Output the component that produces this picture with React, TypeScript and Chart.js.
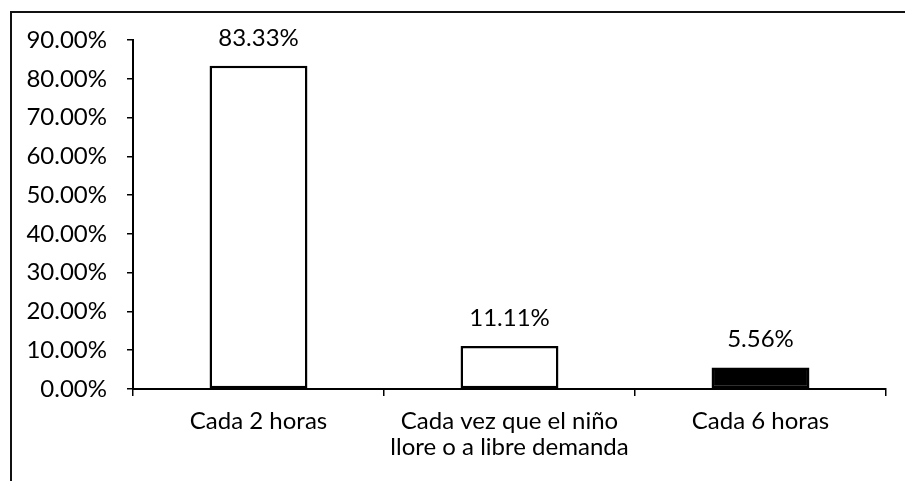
import React, { useEffect, useRef } from "react";
import { Chart, registerables } from "chart.js";

Chart.register(...registerables);

const categories: (string | string[])[] = [
  "Cada 2 horas",
  ["Cada vez que el niño", "llore o a libre demanda"],
  "Cada 6 horas",
];
const values: number[] = [83.33, 11.11, 5.56];
const fillColors: string[] = ["#ffffff", "#ffffff", "#000000"];
const yMin = 0;
const yMax = 90;
const yStep = 10;

const FONT = "Lato, 'Open Sans', sans-serif";

const labelPlugin = {
  id: "valueLabels",
  afterDatasetsDraw(chart: any) {
    const ctx = chart.ctx;
    const meta = chart.getDatasetMeta(0);
    ctx.save();
    ctx.font = `24px ${FONT}`;
    ctx.fillStyle = "#000";
    ctx.textAlign = "center";
    ctx.textBaseline = "alphabetic";
    meta.data.forEach((el: any, i: number) => {
      ctx.fillText(values[i].toFixed(2) + "%", el.x, el.y - 20);
    });
    ctx.restore();
  },
};

export default function App() {
  const ref = useRef<HTMLCanvasElement>(null);
  useEffect(() => {
    if (!ref.current) return;
    const chart = new Chart(ref.current, {
      type: "bar",
      data: {
        labels: categories,
        datasets: [
          {
            data: values,
            backgroundColor: fillColors,
            borderColor: "#000",
            borderWidth: 2.5,
            borderSkipped: false,
            barPercentage: 0.39,
            categoryPercentage: 1,
          },
        ],
      },
      options: {
        responsive: false,
        animation: false,
        devicePixelRatio: 1,
        layout: { padding: { top: 27, right: 19, bottom: 0, left: 0 } },
        plugins: { legend: { display: false }, tooltip: { enabled: false } },
        scales: {
          x: {
            afterFit: (s: any) => {
              s.height = 92;
              s.paddingLeft = 0;
              s.paddingRight = 0;
            },
            grid: {
              display: true,
              drawOnChartArea: false,
              drawTicks: true,
              tickLength: 7,
              color: "#000",
              lineWidth: 1.5,
              offset: true,
            },
            border: { display: true, color: "#000", width: 2 },
            ticks: {
              color: "#000",
              font: { family: FONT, size: 24, lineHeight: 1.1 },
              padding: 12,
              maxRotation: 0,
              autoSkip: false,
            },
          },
          y: {
            min: yMin,
            max: yMax,
            afterFit: (s: any) => {
              s.width = 121;
              s.paddingTop = 0;
              s.paddingBottom = 0;
            },
            grid: {
              display: true,
              drawOnChartArea: false,
              drawTicks: true,
              tickLength: 6,
              color: "#000",
              lineWidth: 1.5,
            },
            border: { display: true, color: "#000", width: 2 },
            ticks: {
              stepSize: yStep,
              color: "#000",
              font: { family: FONT, size: 24 },
              padding: 20,
              callback: (v: any) => Number(v).toFixed(2) + "%",
            },
          },
        },
      },
      plugins: [labelPlugin],
    });
    return () => chart.destroy();
  }, []);
  return (
    <div
      style={{
        position: "absolute",
        left: 10,
        top: 11,
        width: 895,
        height: 470,
        borderLeft: "2px solid #111",
        borderTop: "2px solid #111",
        background: "#fff",
      }}
    >
      <canvas
        ref={ref}
        width={893}
        height={468}
        style={{ position: "absolute", left: 0, top: 0, width: 893, height: 468 }}
      />
    </div>
  );
}
